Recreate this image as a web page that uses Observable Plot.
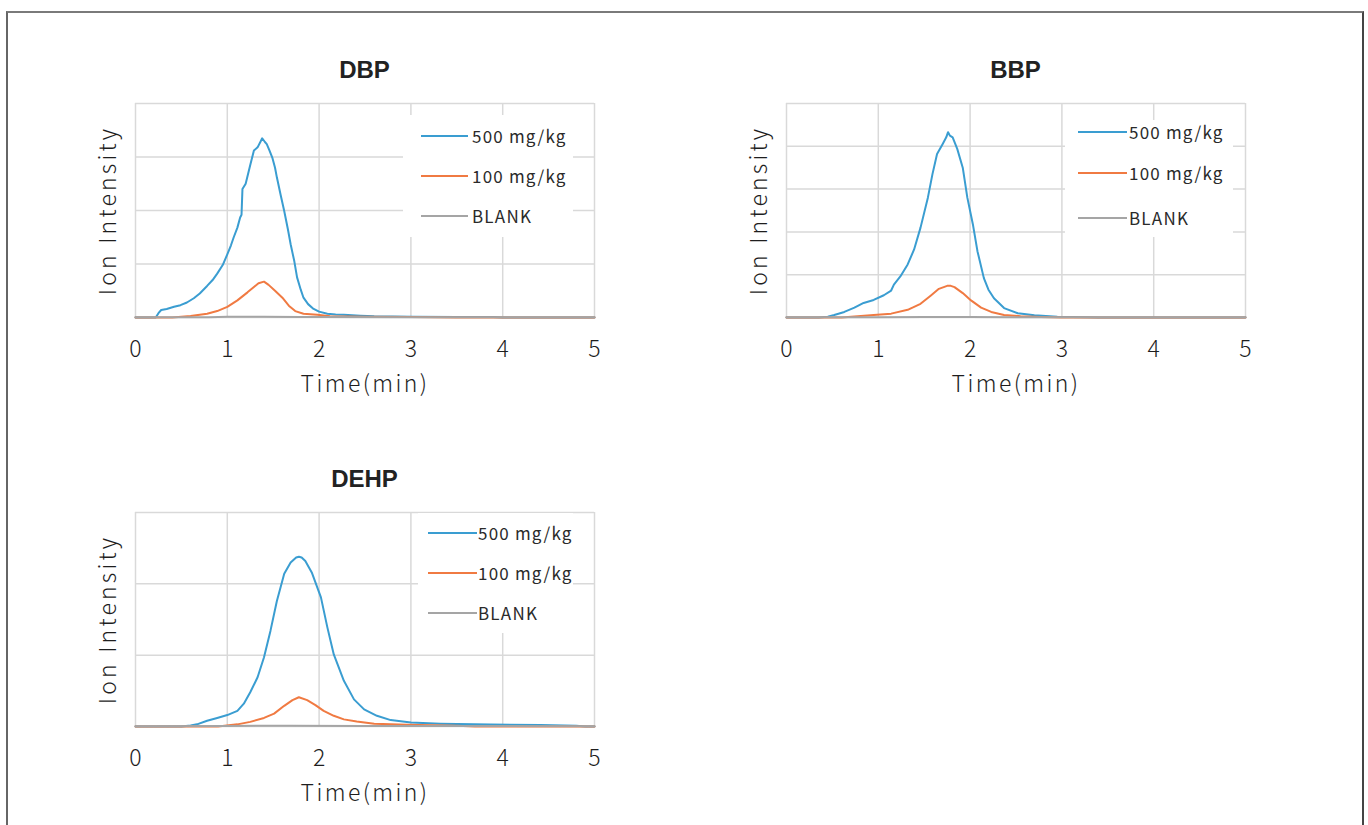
<!DOCTYPE html>
<html><head><meta charset="utf-8">
<script src="https://cdn.jsdelivr.net/npm/d3@7"></script>
<script src="https://cdn.jsdelivr.net/npm/@observablehq/plot@0.6"></script>
<style>
html,body{margin:0;padding:0;background:#fff;}
#page{position:relative;width:1368px;height:825px;overflow:hidden;background:#fff;}
#border{position:absolute;left:6px;top:11px;width:1358px;height:840px;border-top:2px solid #7a7a7a;border-left:2px solid #666;border-right:2px solid #444;box-sizing:border-box;}
.panel{position:absolute;}
.title{position:absolute;font-family:"Liberation Sans",Arial,sans-serif;font-weight:bold;font-size:24px;line-height:28px;height:28px;color:#222;text-align:center;}
.legend{position:absolute;background:#fff;}
.lline{position:absolute;height:2px;}
.ltext{position:absolute;font-family:"Noto Sans CJK JP","Noto Sans",sans-serif;font-weight:400;font-size:17px;line-height:20px;color:#2a2a2a;letter-spacing:1.2px;white-space:nowrap;}
</style>
</head><body><div id="page"><div id="border"></div></div>
<script>
// ---- data ----
const timeTicks = [0, 1, 2, 3, 4, 5];
const seriesNames = ["500 mg/kg", "100 mg/kg", "BLANK"];
const seriesColors = ["#3a9dd1", "#f07a42", "#a5a5a5"];

const dbpTicks = [0, 1, 2, 3, 4];
const bbpTicks = [0, 1, 2, 3, 4, 5];
const dehpTicks = [0, 1, 2, 3];

const dbp500 = [[0,0],[0.22,0],[0.25,0.08],[0.28,0.14],[0.34,0.16],[0.42,0.2],[0.49,0.23],[0.56,0.28],[0.635,0.36],[0.7,0.45],[0.78,0.59],[0.84,0.7],[0.89,0.82],[0.95,0.98],[1.0,1.18],[1.04,1.35],[1.07,1.5],[1.11,1.68],[1.14,1.87],[1.155,1.92],[1.165,2.4],[1.2,2.5],[1.25,2.85],[1.29,3.12],[1.33,3.18],[1.36,3.28],[1.38,3.35],[1.41,3.28],[1.43,3.24],[1.46,3.12],[1.49,2.99],[1.52,2.8],[1.54,2.62],[1.58,2.3],[1.62,1.99],[1.66,1.65],[1.69,1.37],[1.73,1.05],[1.76,0.75],[1.8,0.52],[1.83,0.37],[1.88,0.25],[1.94,0.16],[2.0,0.11],[2.09,0.07],[2.18,0.055],[2.27,0.05],[2.45,0.035],[2.6,0.025],[2.8,0.02],[3.0,0.015],[3.5,0.01],[3.9,0.008],[4.0,0],[5,0]];
const dbp100 = [[0,0],[0.4,0],[0.6,0.03],[0.78,0.07],[0.89,0.12],[1.0,0.2],[1.11,0.32],[1.22,0.47],[1.29,0.57],[1.34,0.64],[1.4,0.67],[1.45,0.61],[1.52,0.5],[1.6,0.37],[1.67,0.22],[1.74,0.12],[1.83,0.07],[1.98,0.05],[2.12,0.025],[2.5,0.015],[3.0,0.008],[3.5,0],[5,0]];
const dbpBlank = [[0,0.005],[0.8,0.006],[1.0,0.012],[1.4,0.015],[1.8,0.01],[2.0,0.008],[3.0,0.005],[5,0.005]];

const bbp500 = [[0,0],[0.35,0],[0.45,0.02],[0.52,0.06],[0.63,0.13],[0.74,0.23],[0.84,0.34],[0.95,0.41],[1.06,0.52],[1.14,0.63],[1.17,0.77],[1.24,0.96],[1.32,1.24],[1.39,1.59],[1.46,2.1],[1.54,2.8],[1.59,3.35],[1.64,3.82],[1.7,4.05],[1.74,4.21],[1.76,4.33],[1.78,4.25],[1.81,4.21],[1.86,3.94],[1.92,3.5],[1.97,2.8],[2.03,2.18],[2.08,1.55],[2.15,0.92],[2.2,0.65],[2.26,0.45],[2.37,0.22],[2.52,0.1],[2.7,0.05],[2.95,0.015],[3.28,0.005],[3.4,0],[5,0]];
const bbp100 = [[0,0],[0.6,0],[0.95,0.06],[1.14,0.09],[1.32,0.18],[1.46,0.32],[1.57,0.51],[1.66,0.67],[1.75,0.74],[1.79,0.74],[1.83,0.71],[1.92,0.57],[2.01,0.4],[2.12,0.23],[2.23,0.13],[2.37,0.06],[2.55,0.03],[2.77,0.01],[3.0,0],[5,0]];
const bbpBlank = [[0,0.005],[1.0,0.008],[1.5,0.012],[2.0,0.01],[2.5,0.006],[5,0.005]];

const dehp500 = [[0,0],[0.5,0],[0.6,0.015],[0.67,0.03],[0.78,0.08],[0.89,0.12],[1.0,0.16],[1.11,0.22],[1.18,0.32],[1.25,0.48],[1.33,0.69],[1.4,0.97],[1.47,1.34],[1.54,1.76],[1.62,2.14],[1.69,2.3],[1.75,2.37],[1.78,2.38],[1.81,2.37],[1.85,2.32],[1.92,2.16],[2.02,1.81],[2.09,1.39],[2.16,1.01],[2.27,0.64],[2.38,0.38],[2.49,0.24],[2.63,0.15],[2.78,0.09],[3.0,0.056],[3.32,0.04],[3.87,0.028],[4.41,0.02],[4.8,0.01],[4.9,0],[5,0]];
const dehp100 = [[0,0],[0.9,0],[1.11,0.03],[1.25,0.065],[1.4,0.12],[1.51,0.18],[1.62,0.29],[1.71,0.37],[1.78,0.41],[1.87,0.37],[1.96,0.3],[2.05,0.22],[2.16,0.15],[2.27,0.1],[2.41,0.07],[2.6,0.04],[2.96,0.023],[3.5,0.01],[3.7,0],[5,0]];
const dehpBlank = [[0,0.005],[1.0,0.008],[1.7,0.012],[2.5,0.008],[5,0.005]];

// ---- layout ----
const panels = [
  {title: "DBP", data: [dbp500, dbp100, dbpBlank], yTicks: dbpTicks, left: 80, top: 95,
   legend: {box: [268, 12, 170, 122], lineLeft: 286, lineWidth: 47, textLeft: 337, rows: [33, 73, 113]}},
  {title: "BBP", data: [bbp500, bbp100, bbpBlank], yTicks: bbpTicks, left: 731, top: 95,
   legend: {box: [279, 17, 168, 117], lineLeft: 292, lineWidth: 49, textLeft: 343, rows: [29, 70, 115]}},
  {title: "DEHP", data: [dehp500, dehp100, dehpBlank], yTicks: dehpTicks, left: 80, top: 504,
   legend: {box: [283, 1, 155, 120], lineLeft: 293, lineWidth: 49, textLeft: 343, rows: [21, 61, 101]}}
];
const M = {left: 55, right: 16, top: 8, bottom: 92};
const W = 530, H = 314;
const page = document.getElementById("page");

for (const p of panels) {
  const rows = [];
  p.data.forEach((arr, i) => arr.forEach(([t, v]) => rows.push({t, v, s: seriesNames[i]})));
  const yMax = p.yTicks[p.yTicks.length - 1];
  const chart = Plot.plot({
    width: W, height: H,
    marginLeft: M.left, marginRight: M.right, marginTop: M.top, marginBottom: M.bottom,
    style: {fontFamily: '"Noto Sans CJK JP","Noto Sans",sans-serif', fontWeight: 300, fontSize: "23px", color: "#1e1e1e", background: "transparent", overflow: "visible"},
    x: {domain: [0, 5], ticks: timeTicks, tickFormat: d3.format("d"), tickSize: 0, tickPadding: 23, label: "Time(min)", labelAnchor: "center", labelOffset: 74, labelArrow: "none"},
    y: {domain: [0, yMax], ticks: [], tickSize: 0, label: "Ion Intensity", labelAnchor: "center", labelOffset: 36, labelArrow: "none"},
    color: {domain: seriesNames, range: seriesColors},
    marks: [
      Plot.ruleX(timeTicks, {x: d => d, stroke: "#d9d9d9", strokeWidth: 1.5}),
      Plot.ruleY(p.yTicks, {y: d => d, stroke: "#d9d9d9", strokeWidth: 1.5}),
      Plot.line(rows, {x: "t", y: "v", z: "s", stroke: "s", strokeWidth: 2})
    ]
  });
  d3.select(chart).selectAll("text").each(function() {
    const t = this.textContent;
    if (t === "Time(min)") this.style.letterSpacing = "2.4px";
    if (t === "Ion Intensity") this.style.letterSpacing = "3.2px";
  });
  const wrap = document.createElement("div");
  wrap.className = "panel";
  wrap.style.left = p.left + "px";
  wrap.style.top = p.top + "px";
  wrap.appendChild(chart);
  page.appendChild(wrap);

  const fx = p.left + M.left, fy = p.top + M.top;
  const title = document.createElement("div");
  title.className = "title";
  title.textContent = p.title;
  title.style.left = fx + "px";
  title.style.width = (W - M.left - M.right) + "px";
  title.style.top = (fy - 47) + "px";
  page.appendChild(title);

  const L = p.legend;
  const box = document.createElement("div");
  box.className = "legend";
  box.style.left = (fx + L.box[0]) + "px";
  box.style.top = (fy + L.box[1]) + "px";
  box.style.width = L.box[2] + "px";
  box.style.height = L.box[3] + "px";
  page.appendChild(box);
  seriesNames.forEach((name, i) => {
    const ln = document.createElement("div");
    ln.className = "lline";
    ln.style.background = seriesColors[i];
    ln.style.left = (fx + L.lineLeft) + "px";
    ln.style.width = L.lineWidth + "px";
    ln.style.top = (fy + L.rows[i] - 1) + "px";
    page.appendChild(ln);
    const tx = document.createElement("div");
    tx.className = "ltext";
    tx.textContent = name;
    tx.style.left = (fx + L.textLeft) + "px";
    tx.style.top = (fy + L.rows[i] - 10) + "px";
    page.appendChild(tx);
  });
}
</script>
</body></html>
